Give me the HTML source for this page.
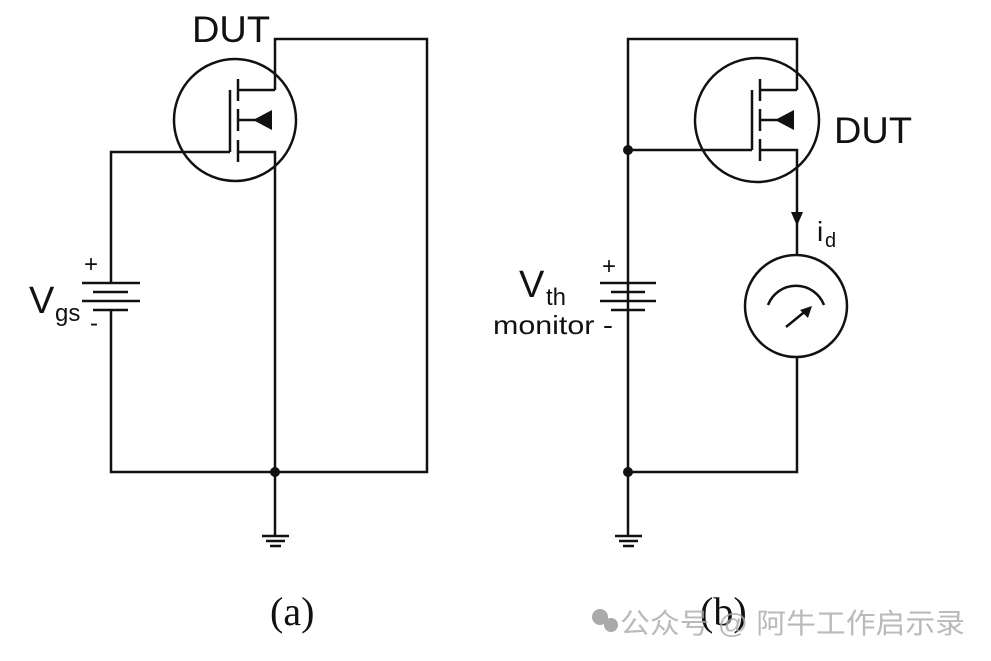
<!DOCTYPE html>
<html><head><meta charset="utf-8"><style>
html,body{margin:0;padding:0;background:#fff;}
svg{display:block;}
</style></head><body>
<svg width="991" height="661" viewBox="0 0 991 661" xmlns="http://www.w3.org/2000/svg">
<g fill="none" stroke="#111" stroke-width="2.5">
<!-- (a) -->
<circle cx="235" cy="120" r="61"/>
<polyline points="275,90 275,39 427,39 427,472 111,472 111,310"/>
<polyline points="111,283 111,152 230,152"/>
<line x1="230" y1="90" x2="230" y2="152"/>
<line x1="238" y1="79" x2="238" y2="101"/>
<line x1="238" y1="109" x2="238" y2="131"/>
<line x1="238" y1="140" x2="238" y2="162"/>
<line x1="238" y1="90" x2="275" y2="90"/>
<line x1="238" y1="120" x2="262" y2="120"/>
<polyline points="238,152 275,152 275,535"/>
<line x1="82" y1="283" x2="140" y2="283"/>
<line x1="93" y1="292" x2="128" y2="292"/>
<line x1="82" y1="301" x2="140" y2="301"/>
<line x1="93" y1="310" x2="128" y2="310"/>
<line x1="262" y1="536" x2="289" y2="536"/>
<line x1="266" y1="541" x2="285" y2="541"/>
<line x1="270" y1="546" x2="281" y2="546"/>
<!-- (b) -->
<circle cx="757" cy="120" r="62"/>
<polyline points="797,90 797,39 628,39 628,535"/>
<line x1="628" y1="150" x2="752" y2="150"/>
<line x1="752" y1="90" x2="752" y2="150"/>
<line x1="760" y1="79" x2="760" y2="101"/>
<line x1="760" y1="109" x2="760" y2="131"/>
<line x1="760" y1="139" x2="760" y2="161"/>
<line x1="760" y1="90" x2="797" y2="90"/>
<line x1="760" y1="120" x2="784" y2="120"/>
<polyline points="760,150 797,150 797,255"/>
<circle cx="796" cy="306" r="51"/>
<path d="M768,305 A30,30 0 0 1 824,305"/>
<line x1="786" y1="327" x2="808" y2="309"/>
<polyline points="797,357 797,472 628,472"/>
<line x1="600" y1="283" x2="656" y2="283"/>
<line x1="611" y1="292" x2="645" y2="292"/>
<line x1="600" y1="301" x2="656" y2="301"/>
<line x1="611" y1="310" x2="645" y2="310"/>
<line x1="615" y1="536" x2="642" y2="536"/>
<line x1="619" y1="541" x2="638" y2="541"/>
<line x1="623" y1="546" x2="634" y2="546"/>
</g>
<g fill="#111">
<polygon points="253,120 272,110 272,130"/>
<polygon points="775,120 794,110 794,130"/>
<polygon points="791,212 803,212 797,226"/>
<polygon points="812,306 800,310 808,318"/>
<circle cx="275" cy="472" r="5"/>
<circle cx="628" cy="472" r="5"/>
<circle cx="628" cy="150" r="5"/>
</g>
<g font-family="Liberation Sans, sans-serif" fill="#111">
<text x="192" y="42" font-size="37" textLength="78" lengthAdjust="spacingAndGlyphs">DUT</text>
<text x="834" y="143" font-size="37" textLength="78" lengthAdjust="spacingAndGlyphs">DUT</text>
<text x="84" y="272" font-size="24">+</text>
<text x="29" y="313" font-size="38">V</text>
<text x="55" y="321" font-size="24">gs</text>
<text x="90" y="331" font-size="24">-</text>
<text x="817" y="241" font-size="28">i</text>
<text x="825" y="247" font-size="20">d</text>
<text x="602" y="274" font-size="24">+</text>
<text x="519" y="297" font-size="38">V</text>
<text x="546" y="305" font-size="24">th</text>
<text x="493" y="334" font-size="26" textLength="120" lengthAdjust="spacingAndGlyphs">monitor -</text>
</g>
<g font-family="Liberation Serif, 'Noto Serif CJK SC', serif" fill="#111" font-size="40">
<text x="270" y="625">(a)</text>
<text x="700" y="625">(b)</text>
</g>
<text x="620" y="633" font-family="Liberation Sans, 'Noto Sans CJK SC', sans-serif" font-size="28" fill="#aaa" opacity="0.8" textLength="345" lengthAdjust="spacingAndGlyphs">公众号 @ 阿牛工作启示录</text>
<circle cx="600" cy="617" r="8" fill="#aaa"/>
<circle cx="611" cy="625" r="7" fill="#aaa"/>
</svg>
</body></html>
